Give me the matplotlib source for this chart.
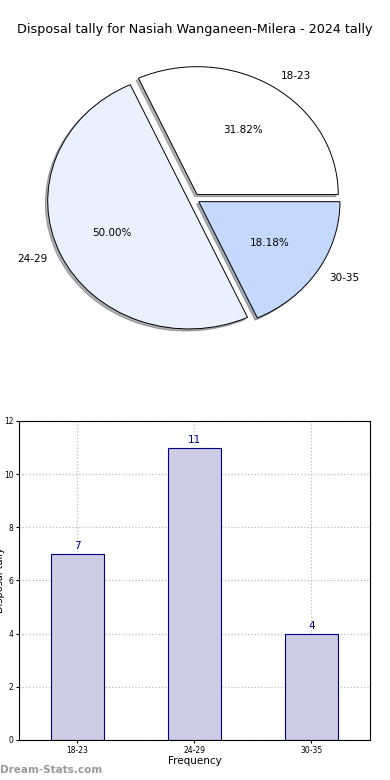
import matplotlib
matplotlib.use("Agg")
import matplotlib.pyplot as plt

title = "Disposal tally for Nasiah Wanganeen-Milera - 2024 tally"
categories = ["18-23", "24-29", "30-35"]
counts = [7, 11, 4]
pie_colors = ["#FFFFFF", "#EAF1FE", "#C5D9FF"]

fig = plt.figure(figsize=(3.9, 7.8), dpi=100)

# Pie
axp = fig.add_axes([0.045, 0.540, 0.905, 0.410])
axp.pie(counts, labels=categories, colors=pie_colors, autopct="%.2f%%",
        explode=[0.04] * len(counts), shadow={"ox": -0.012, "oy": -0.012, "shade": 0.6},
        startangle=0,
        wedgeprops=dict(edgecolor="black", linewidth=0.7),
        textprops=dict(fontsize=7.5))
axp.set_aspect("auto")
axp.set_xlim(-1.25, 1.25)
axp.set_ylim(-1.25, 1.25)
fig.text(0.5, 1 - 30 / 780, title, ha="center", va="center", fontsize=9.2)

# Bar
axb = fig.add_axes([0.0487, 0.0513, 0.9, 0.409])
x = list(range(len(categories)))
axb.bar(x, counts, width=0.45, color="#CCCCE4", edgecolor="navy", linewidth=0.8, zorder=2)
for xi, v in zip(x, counts):
    axb.text(xi, v + 0.1, str(v), ha="center", va="bottom", color="navy", fontsize=7.5)
axb.set_xticks(x)
axb.set_xticklabels(categories, fontsize=5.5)
axb.set_xlim(-0.5, 2.5)
axb.set_ylim(0, 12)
axb.set_yticks(range(0, 13, 2))
axb.tick_params(axis="y", labelsize=5.5, length=2, pad=2)
axb.tick_params(axis="x", length=2, pad=2)
axb.grid(True, linestyle=":", color="#BBBBBB", linewidth=0.9, zorder=0)
axb.set_axisbelow(True)
axb.set_xlabel("Frequency", fontsize=7.5, labelpad=1)
axb.set_ylabel("Disposal tally", fontsize=7, labelpad=-1)

fig.text(0.0, 1 - 770 / 780, "Dream-Stats.com", ha="left", va="center",
         fontsize=7.5, color="#999999", fontweight="bold")

fig.savefig("out.png", dpi=100)
